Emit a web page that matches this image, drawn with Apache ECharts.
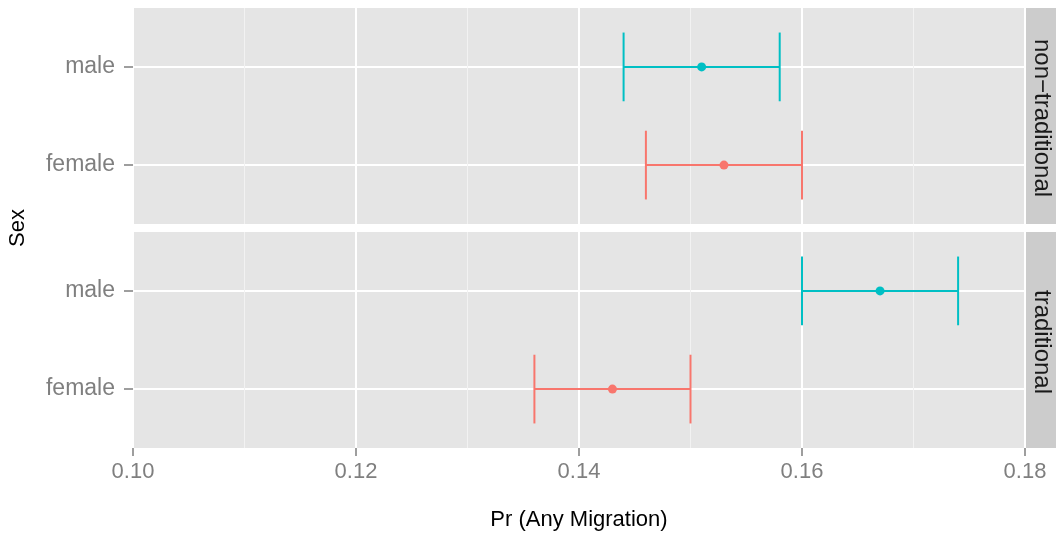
<!DOCTYPE html>
<html>
<head>
<meta charset="utf-8">
<script src="https://cdn.jsdelivr.net/npm/echarts@6/dist/echarts.min.js"></script>
<style>
  html, body { margin: 0; padding: 0; background: #fff; }
  #main { width: 1056px; height: 533px; }
</style>
</head>
<body>
<div id="main"></div>
<script>
// facet panels (top to bottom) and y categories (bottom to top)
const panels = ['non−traditional', 'traditional'];
const sexes = ['female', 'male'];
const sexPos = [1, 2];
const sexColors = ['#F8766D', '#00BFC4'];

// per panel: [female, male]
const estimate = [[0.153, 0.151], [0.143, 0.167]];
const lower = [[0.146, 0.144], [0.136, 0.160]];
const upper = [[0.160, 0.158], [0.150, 0.174]];

const xMin = 0.10, xMax = 0.18, xStep = 0.02;

const FONT = 'Liberation Sans, Arial, Helvetica, sans-serif';
const GREY = '#7f7f7f';

const chart = echarts.init(document.getElementById('main'));

const grids = panels.map((p, i) => ({
  left: 133,
  top: 8 + i * 224,
  width: 892,
  height: 216,
  show: true,
  backgroundColor: '#e5e5e5',
  borderWidth: 0
}));

const xAxes = panels.map((p, i) => {
  const last = i === panels.length - 1;
  return {
    type: 'value',
    gridIndex: i,
    min: xMin,
    max: xMax,
    interval: xStep,
    axisLine: { show: false },
    axisTick: { show: last, length: 8, lineStyle: { color: GREY, width: 1.5 } },
    axisLabel: {
      show: last,
      color: GREY,
      fontSize: 22,
      fontFamily: FONT,
      margin: 13,
      formatter: v => v.toFixed(2)
    },
    splitLine: { show: true, lineStyle: { color: '#ffffff', width: 2 } },
    minorTick: { show: false, splitNumber: 2 },
    minorSplitLine: { show: true, lineStyle: { color: '#f2f2f2', width: 1 } },
    name: last ? 'Pr (Any Migration)' : '',
    nameLocation: 'middle',
    nameGap: 61,
    nameTextStyle: { color: '#000', fontSize: 22, fontFamily: FONT }
  };
});

const yAxes = panels.map((p, i) => ({
  type: 'value',
  gridIndex: i,
  min: 0.4,
  max: 2.6,
  axisLine: { show: false },
  axisTick: { show: true, length: 9, customValues: sexPos, lineStyle: { color: GREY, width: 1.5 } },
  axisLabel: {
    customValues: sexPos,
    color: GREY,
    fontSize: 23,
    fontFamily: FONT,
    margin: 18,
    formatter: v => sexes[sexPos.indexOf(v)] || ''
  },
  splitLine: { show: true, lineStyle: { color: '#ffffff', width: 2 } }
}));

function renderErrorBar(params, api) {
  const y = api.value(3);
  const color = sexColors[api.value(4)];
  const c = api.coord([api.value(0), y]);
  const lo = api.coord([api.value(1), y]);
  const hi = api.coord([api.value(2), y]);
  const h = api.size([0, 0.35])[1];
  const line = { stroke: color, lineWidth: 2 };
  return {
    type: 'group',
    children: [
      { type: 'line', shape: { x1: lo[0], y1: lo[1], x2: hi[0], y2: hi[1] }, style: line },
      { type: 'line', shape: { x1: lo[0], y1: lo[1] - h, x2: lo[0], y2: lo[1] + h }, style: line },
      { type: 'line', shape: { x1: hi[0], y1: hi[1] - h, x2: hi[0], y2: hi[1] + h }, style: line },
      { type: 'circle', shape: { cx: c[0], cy: c[1], r: 4.5 }, style: { fill: color } }
    ]
  };
}

const series = panels.map((p, i) => ({
  type: 'custom',
  name: p,
  xAxisIndex: i,
  yAxisIndex: i,
  renderItem: renderErrorBar,
  encode: { x: [0, 1, 2], y: 3 },
  data: sexes.map((s, j) => [estimate[i][j], lower[i][j], upper[i][j], sexPos[j], j]),
  silent: true
}));

// facet strips on the right + y axis title
const graphics = [];
panels.forEach((p, i) => {
  const top = 8 + i * 224;
  graphics.push({
    type: 'rect',
    shape: { x: 1025, y: top, width: 31, height: 216 },
    style: { fill: '#cccccc' },
    silent: true
  });
  graphics.push({
    type: 'text',
    x: 1042,
    y: top + 110,
    rotation: -Math.PI / 2,
    style: {
      text: p,
      fill: '#1a1a1a',
      fontSize: 24,
      fontFamily: FONT,
      align: 'center',
      verticalAlign: 'middle'
    },
    silent: true
  });
});
graphics.push({
  type: 'text',
  x: 18,
  y: 228,
  rotation: Math.PI / 2,
  style: {
    text: 'Sex',
    fill: '#000',
    fontSize: 22,
    fontFamily: FONT,
    align: 'center',
    verticalAlign: 'middle'
  },
  silent: true
});

chart.setOption({
  animation: false,
  backgroundColor: '#ffffff',
  grid: grids,
  xAxis: xAxes,
  yAxis: yAxes,
  series: series,
  graphic: graphics
});
</script>
</body>
</html>
